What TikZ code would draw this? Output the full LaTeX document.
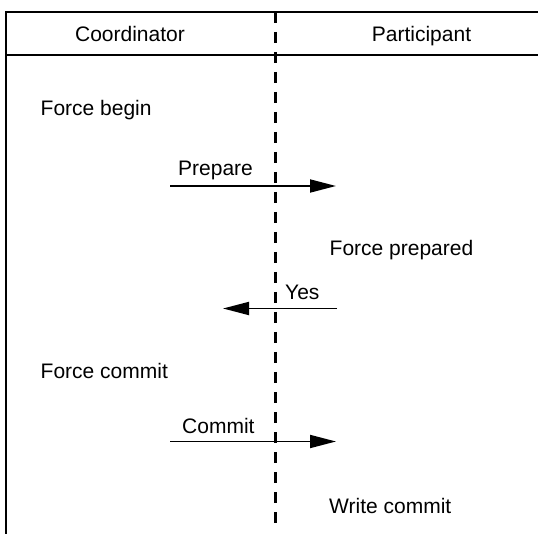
\documentclass[tikz,border=0pt]{standalone}
\usepackage{fontspec}
\setmainfont{Liberation Sans}
\usetikzlibrary{arrows.meta, positioning}

\begin{document}
\begin{tikzpicture}[
  x=1pt, y=-1pt,
  lbl/.style={inner sep=0pt, font=\fontsize{21}{25}\selectfont},
  frame/.style={line width=2.2pt},
  lifeline/.style={line width=2.2pt, dash pattern=on 11pt off 9pt},
  msg/.style={-{Triangle[length=26pt, width=13pt]}, line width=1.8pt}
]
\useasboundingbox (0,0) rectangle (538,534);

% frame and header
\draw[frame] (538,12) -- (6,12) -- (6,534);
\draw[frame] (6,55) -- (538,55);
\draw[lifeline] (275.5,12) -- (275.5,527);

\node[lbl, anchor=base] (coord) at (130,42) {Coordinator};
\node[lbl, anchor=base] (part) at (421.5,42) {Participant};

% log records
\node[lbl, anchor=base west] (fbegin) at (40.5,116) {Force begin};
\node[lbl, anchor=base west] (fprep) at (329.5,256) {Force prepared};
\node[lbl, anchor=base west] (fcommit) at (40.5,379) {Force commit};
\node[lbl, anchor=base west] (wcommit) at (329,513.5) {Write commit};

% messages
\coordinate (prepS) at (170,186);
\coordinate (prepE) at (336,186);
\coordinate (yesS) at (337,308.5);
\coordinate (yesE) at (223,308.5);
\coordinate (comS) at (170,441.5);
\coordinate (comE) at (336,441.5);

\node[lbl, anchor=base west] (prep) at (178,175.5) {Prepare};
\node[lbl, anchor=base west] (yes) at (285,300) {Yes};
\node[lbl, anchor=base west] (commit) at (182,433) {Commit};

\foreach \a/\b in {prepS/prepE, yesS/yesE, comS/comE}
  \draw[msg] (\a) -- (\b);
\end{tikzpicture}
\end{document}
